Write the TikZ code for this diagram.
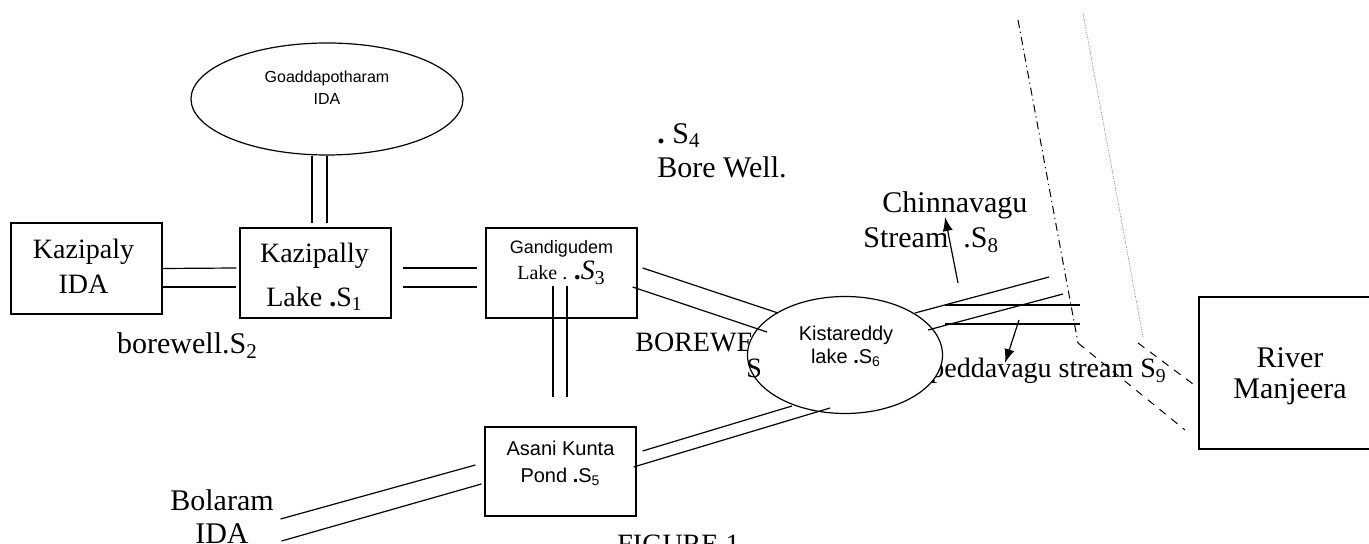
\documentclass[tikz,border=0pt]{standalone}
\usepackage{fontspec}
\setmainfont{Liberation Serif}
\setsansfont{Liberation Sans}
\usetikzlibrary{shapes.geometric,arrows.meta}

\tikzset{
  site/.style={draw,line width=0.6pt,inner sep=0pt,minimum width=75.5pt,minimum height=45pt},
  tank/.style={ellipse,draw,fill=white,line width=0.6pt,inner sep=0pt},
  pipe/.style={line width=0.6pt},
  rm/.style={font=\fontsize{14}{17.5}\selectfont,align=center,inner sep=0pt},
  big/.style={font=\fontsize{15}{17}\selectfont},
  sf/.style={font=\sffamily\fontsize{10}{11.5}\selectfont,align=center,inner sep=0pt},
  flow/.style={-{Latex[length=7pt,width=5pt]},line width=0.6pt},
  dashbank/.style={line width=0.5pt,dash pattern=on 4pt off 3.5pt},
}

\begin{document}
\begin{tikzpicture}[x=0.5pt,y=-0.5pt]
\useasboundingbox (0,0) rectangle (1369,544);

% labels that the lake covers
\node[rm,anchor=base west] (borewell7) at (635,352) {BOREWELL};
\node[rm,anchor=base west] (peddavagu) at (930,378) {peddavagu stream S\textsubscript{9}};

% sites
\node[tank,minimum width=136pt,minimum height=56pt] (goadda) at (327,99) {};
\node[site,minimum height=45.5pt] (kazida) at (86.5,268.5) {};
\node[site] (kazlake) at (315.5,273) {};
\node[site] (gandi) at (561.5,273) {};
\node[site,minimum height=44.5pt] (asani) at (560.5,471.5) {};
\node[tank,minimum width=97.5pt,minimum height=58.5pt] (kista) at (845,355) {};
\node[site,minimum width=91pt,minimum height=76pt] (river) at (1290,373) {};

% texts
\node[rm,anchor=base west] (s7) at (746,378) {S};
\node[sf,font=\sffamily\fontsize{8}{11}\selectfont] (goaddatxt) at (327,88) {Goaddapotharam\\IDA};
\node[rm] (kazidatxt) at ([shift={(-3,-2.5)}]kazida.center) {Kazipaly\\IDA};
\node[rm,font=\fontsize{14}{22}\selectfont] (kazlaketxt) at ([shift={(-1,4)}]kazlake.center) {Kazipally\\Lake {\bfseries.}S\textsubscript{1}};
\node[rm,font=\fontsize{10}{13}\selectfont] (ganditxt) at ([shift={(0,-10.5)}]gandi.center) {{\sffamily\fontsize{9}{13}\selectfont Gandigudem}\\Lake . {\fontsize{14}{13}\selectfont{\bfseries.}\textit{S}\textsubscript{3}}};
\node[sf,font=\sffamily\fontsize{10}{13.5}\selectfont] (asanitxt) at ([shift={(0,-8.5)}]asani.center) {Asani Kunta\\Pond {\bfseries.}S\textsubscript{5}};
\node[sf] (kistatxt) at ([shift={(1,-9)}]kista.center) {Kistareddy\\lake {\bfseries.}S\textsubscript{6}};
\node[rm,big,font=\fontsize{15}{15.5}\selectfont] (rivertxt) at ([shift={(0,3)}]river.center) {River\\Manjeera};
\node[rm,align=left,anchor=west,big] (s4txt) at (657,150.5) {{\bfseries.}\ S\textsubscript{4}\\Bore Well.};
\node[rm,big] (s2txt) at (187.5,345.5) {borewell.S\textsubscript{2}};
\node[rm,font=\fontsize{15}{16.5}\selectfont] (bolaram) at (222,517) {Bolaram\\IDA};
\node[rm,big,anchor=base west] (chinna) at (882,213) {Chinnavagu};
\node[rm,big,anchor=base west] (stream8) at (863,248) {Stream\enspace.S\textsubscript{8}};
\node[rm,anchor=base west] (figure) at (617,553) {FIGURE 1};

% Goaddapotharam to Kazipally lake
\draw[pipe] ([shift={(-15,0)}]goadda.south) -- ([shift={(-3.5,-4)}]kazlake.north);
\draw[pipe] (goadda.south) -- ([shift={(11.5,-4)}]kazlake.north);
% IDA to lake
\draw[pipe] (kazida.east) -- ([shift={(-3,-5)}]kazlake.west);
\draw[pipe] ([shift={(0,18.5)}]kazida.east) -- ([shift={(-3,14)}]kazlake.west);
% lake to Gandigudem
\draw[pipe] ([shift={(11,-5)}]kazlake.east) -- ([shift={(-8,-5)}]gandi.west);
\draw[pipe] ([shift={(11,14)}]kazlake.east) -- ([shift={(-8,14)}]gandi.west);
% Gandigudem to Asani Kunta
\draw[pipe] ([shift={(-8.5,-33)}]gandi.south) -- ([shift={(-7.5,-29)}]asani.north);
\draw[pipe] ([shift={(5.5,-33)}]gandi.south) -- ([shift={(6.5,-29)}]asani.north);
% Gandigudem to Kistareddy
\draw[pipe] ([shift={(5,-5)}]gandi.east) -- ([shift={(-67,-42)}]kista.center);
\draw[pipe] ([shift={(-5,14)}]gandi.east) -- ([shift={(-78,-23)}]kista.center);
% Asani Kunta to Kistareddy
\draw[pipe] ([shift={(6,-20.5)}]asani.east) -- ([shift={(-53,51)}]kista.center);
\draw[pipe] ([shift={(-3,-4.5)}]asani.east) -- ([shift={(-15,53)}]kista.center);
% Bolaram to Asani Kunta
\draw[pipe] ([shift={(6.5,2)}]bolaram.east) -- ([shift={(-9,-6.5)}]asani.west);
\draw[pipe] ([shift={(7.5,24)}]bolaram.east) -- ([shift={(-3,12.5)}]asani.west);

% Kistareddy out to the streams
\coordinate (endA) at (1049,277);
\coordinate (endB) at (1063,294);
\coordinate (endC) at (1080,305);
\coordinate (endD) at (1080,324);
\draw[pipe] ([shift={(70,-42)}]kista.center) -- (endA);
\draw[pipe] ([shift={(83,-25)}]kista.center) -- (endB);
\draw[pipe] ([shift={(100,-50)}]kista.center) -- (endC);
\draw[pipe] ([shift={(100,-31)}]kista.center) -- (endD);
\coordinate (up8) at (958,283);
\draw[flow] (up8) -- ++(-13,-66);
\coordinate (down9) at (1019,320);
\draw[flow] (down9) -- ++(-14,43);

% river banks
\draw[line width=0.5pt,dash pattern=on 4pt off 2pt on 0.6pt off 2pt] (1018,20) -- (1078,343);
\draw[dashbank] (1078,343) -- (1185,430);
\draw[gray,line width=0.3pt,dash pattern=on 0.6pt off 0.6pt] (1083,13) -- (1143,337);
\draw[dashbank] (1138,343) -- (1197,387);
\end{tikzpicture}
\end{document}
